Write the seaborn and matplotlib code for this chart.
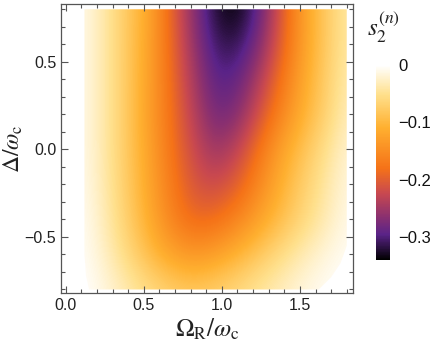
import numpy as np
import matplotlib
matplotlib.use("Agg")
import matplotlib.pyplot as plt
from matplotlib.colors import LinearSegmentedColormap
from matplotlib.patches import Polygon
from matplotlib.ticker import MultipleLocator
import seaborn as sns

# grid of the density plot
omega_r = [0.12, 0.26, 0.40, 0.54, 0.68, 0.82, 0.96, 1.10, 1.24, 1.38, 1.52, 1.66, 1.80]
delta = [-0.8, -0.6, -0.4, -0.2, 0.0, 0.2, 0.4, 0.6, 0.8]

row_m08 = [0.0, -0.015, -0.035, -0.055, -0.07, -0.078, -0.07, -0.058, -0.042, -0.028, -0.014, -0.005, 0.0]
row_m06 = [-0.003, -0.027, -0.06, -0.095, -0.125, -0.138, -0.128, -0.105, -0.08, -0.055, -0.033, -0.016, -0.005]
row_m04 = [-0.005, -0.034, -0.072, -0.115, -0.16, -0.19, -0.185, -0.16, -0.125, -0.092, -0.062, -0.035, -0.01]
row_m02 = [-0.008, -0.038, -0.077, -0.122, -0.17, -0.21, -0.222, -0.2, -0.155, -0.11, -0.073, -0.042, -0.015]
row_00 = [-0.01, -0.04, -0.08, -0.125, -0.178, -0.222, -0.255, -0.232, -0.178, -0.125, -0.087, -0.052, -0.02]
row_02 = [-0.01, -0.04, -0.08, -0.13, -0.182, -0.235, -0.28, -0.27, -0.215, -0.158, -0.11, -0.07, -0.03]
row_04 = [-0.01, -0.04, -0.08, -0.127, -0.186, -0.245, -0.295, -0.29, -0.242, -0.18, -0.12, -0.075, -0.035]
row_06 = [-0.01, -0.04, -0.08, -0.125, -0.19, -0.257, -0.31, -0.315, -0.272, -0.20, -0.13, -0.08, -0.04]
row_08 = [-0.01, -0.04, -0.08, -0.12, -0.195, -0.265, -0.325, -0.34, -0.29, -0.21, -0.13, -0.08, -0.04]

s2 = np.array([row_m08, row_m06, row_m04, row_m02, row_00, row_02, row_04, row_06, row_08])

cbar_ticks = [0, -0.1, -0.2, -0.3]
cbar_labels = ["0", "\u22120.1", "\u22120.2", "\u22120.3"]

# Mathematica-like "SunsetColors"
sunset = LinearSegmentedColormap.from_list("sunset", [
    (0.00, "#000000"),
    (0.13, "#5a2388"),
    (0.22, "#8a3070"),
    (0.34, "#c84850"),
    (0.47, "#f57218"),
    (0.68, "#ffb030"),
    (0.85, "#ffe08c"),
    (1.00, "#ffffff"),
])

sns.set_theme(style="ticks")
plt.rcParams["font.family"] = ["Liberation Sans", "DejaVu Sans"]
plt.rcParams["mathtext.fontset"] = "stix"

fig = plt.figure(figsize=(4.36, 3.49), dpi=100)
ax = fig.add_axes([61 / 436, 1 - 293 / 349, 292 / 436, 289 / 349])
cax = fig.add_axes([376 / 436, 1 - 260 / 349, 14 / 436, 195 / 349])

dx = omega_r[1] - omega_r[0]
dy = delta[1] - delta[0]
im = ax.imshow(s2, origin="lower", cmap=sunset, vmin=-0.34, vmax=0,
               interpolation="bicubic", aspect="auto",
               extent=[omega_r[0] - dx / 2, omega_r[-1] + dx / 2,
                       delta[0] - dy / 2, delta[-1] + dy / 2])

# plot region of the original (rounded lower corners)
region = Polygon([(0.12, 0.8), (1.8, 0.8), (1.8, -0.55), (1.76, -0.65),
                  (1.70, -0.73), (1.62, -0.8), (0.15, -0.8), (0.13, -0.72),
                  (0.12, -0.6)], closed=True, transform=ax.transData)
im.set_clip_path(region)

ax.set_xlim(-0.03, 1.84)
ax.set_ylim(-0.82, 0.83)
ax.xaxis.set_major_locator(MultipleLocator(0.5))
ax.xaxis.set_minor_locator(MultipleLocator(0.1))
ax.yaxis.set_major_locator(MultipleLocator(0.5))
ax.yaxis.set_minor_locator(MultipleLocator(0.1))
ax.xaxis.set_major_formatter(lambda v, p: f"{v:.1f}".replace("-", "\u2212"))
ax.yaxis.set_major_formatter(lambda v, p: f"{v:.1f}".replace("-", "\u2212"))
ax.tick_params(which="both", direction="in", top=True, right=True,
               color="#555555", labelsize=11.5, labelcolor="#222222", width=0.8)
ax.tick_params(which="major", length=5)
ax.tick_params(which="minor", length=3)
for sp in ax.spines.values():
    sp.set_color("#555555")
    sp.set_linewidth(0.9)

ax.set_xlabel(r"$\Omega_{\rm R}/\omega_{\rm c}$", fontsize=18, labelpad=3, color="#222222")
ax.set_ylabel(r"$\Delta/\omega_{\rm c}$", fontsize=17, color="#222222")
ax.yaxis.set_label_coords(-0.122, 0.5)

cb = fig.colorbar(im, cax=cax, ticks=cbar_ticks)
cb.outline.set_visible(False)
cb.ax.set_yticklabels(cbar_labels)
cb.ax.tick_params(length=0, labelsize=12, pad=6, labelcolor="#111111")
fig.text(383 / 436, 1 - 27 / 349, r"$s_2^{(n)}$", fontsize=18,
         ha="center", va="center", color="#222222")

fig.savefig("out.png", dpi=100)
